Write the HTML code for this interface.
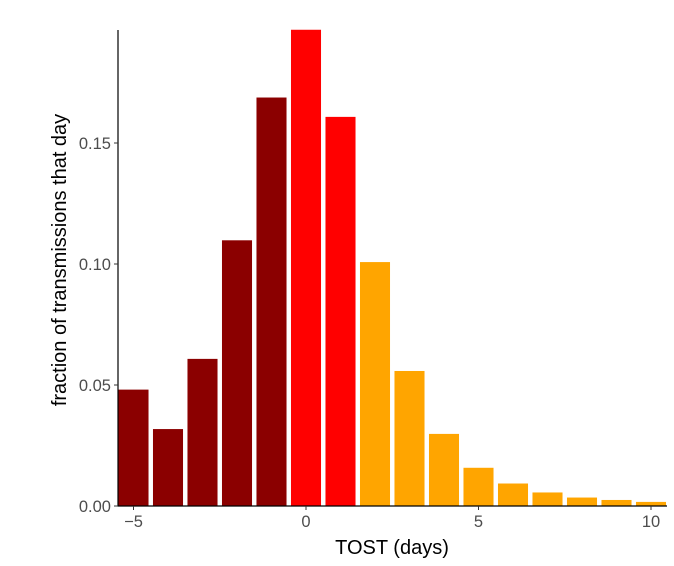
<!DOCTYPE html>
<html><head><meta charset="utf-8"><style>
body{margin:0;background:#fff;}
svg{display:block;font-family:"Liberation Sans",sans-serif;}
</style></head><body>
<svg id="chart" width="674" height="566"></svg>
<script>
const days=[-5,-4,-3,-2,-1,0,1,2,3,4,5,6,7,8,9,10];
const fractions=[0.0483,0.032,0.061,0.110,0.169,0.197,0.161,0.101,0.056,0.030,0.016,0.0095,0.0058,0.0037,0.0027,0.0019];
const groups=["pre","pre","pre","pre","pre","early","early","late","late","late","late","late","late","late","late","late"];
const xTicks=[-5,0,5,10];
const yTicks=[0,0.05,0.10,0.15];
const yTickLabels=["0.00","0.05","0.10","0.15"];
const colors={pre:"#8B0000",early:"#FF0000",late:"#FFA500"};
const ns="http://www.w3.org/2000/svg";
const svg=document.getElementById("chart");
const X=d=>306+(d)*34.5;
const Y=v=>506-v*2420;
function mk(t,a,p){const e=document.createElementNS(ns,t);for(const k in a)e.setAttribute(k,a[k]);(p||svg).appendChild(e);return e;}
const bw=0.9*34.5;
days.forEach((d,i)=>{
  const r=mk("rect",{x:X(d)-bw/2,y:Y(fractions[i]),width:bw,height:506-Y(fractions[i]),fill:colors[groups[i]],stroke:"#fff","stroke-width":1});
  
  
});
const ya=mk("line",{x1:118,y1:30,x2:118,y2:506.5,stroke:"#000","stroke-width":1.2});


const xa=mk("line",{x1:117.5,y1:506,x2:667,y2:506,stroke:"#000","stroke-width":1.2});


yTicks.forEach((v,i)=>{
  mk("line",{x1:114,y1:Y(v),x2:118,y2:Y(v),stroke:"#333","stroke-width":1});
  const t=mk("text",{x:111,y:Y(v)+6,"text-anchor":"end","font-size":16.5,fill:"#4d4d4d"});
  t.textContent=yTickLabels[i];
  
  
});
xTicks.forEach(v=>{
  mk("line",{x1:X(v),y1:506,x2:X(v),y2:510,stroke:"#333","stroke-width":1});
  const t=mk("text",{x:X(v),y:527,"text-anchor":"middle","font-size":16.5,fill:"#4d4d4d"});
  t.textContent=v<0?"\u2212"+Math.abs(v):String(v);
  
  
});
const xt=mk("text",{x:392,y:554,"text-anchor":"middle","font-size":20,fill:"#000"});
xt.textContent="TOST (days)";


const yt=mk("text",{x:0,y:0,"text-anchor":"middle","font-size":20,fill:"#000",transform:"translate(66,260) rotate(-90)"});
yt.textContent="fraction of transmissions that day";


</script>
</body></html>
